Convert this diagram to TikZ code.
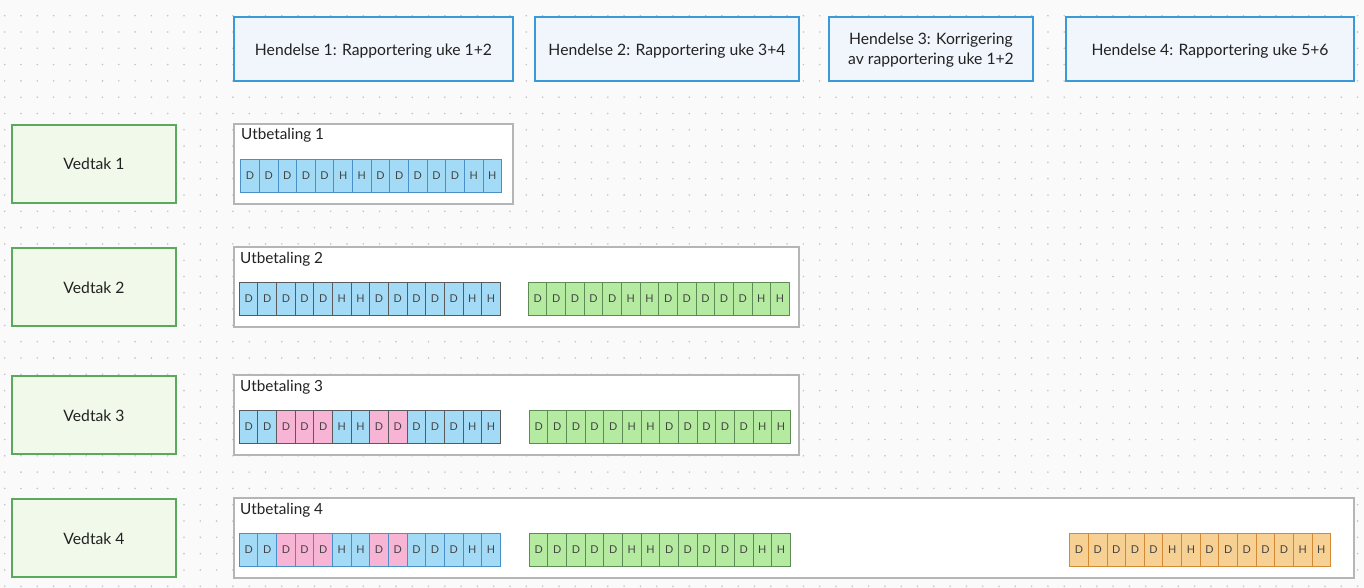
\documentclass[tikz,border=0pt]{standalone}
\usepackage{fontspec}
\setmainfont{Lato}
\definecolor{bgc}{HTML}{FAFAFA}
\definecolor{dotc}{HTML}{C4C4C4}
\definecolor{hdrb}{HTML}{3A9AD9}
\definecolor{hdrf}{HTML}{F1F6FD}
\definecolor{vedb}{HTML}{5AAA5E}
\definecolor{vedf}{HTML}{F0F9EA}
\definecolor{utbb}{HTML}{B5B5B5}
\definecolor{bluef}{HTML}{A3DBF7}
\definecolor{blueb}{HTML}{4A90C8}
\definecolor{pinkf}{HTML}{F8B4D4}
\definecolor{greenf}{HTML}{B4EBA0}
\definecolor{greenb}{HTML}{5E8A55}
\definecolor{orangef}{HTML}{F7D193}
\definecolor{orangeb}{HTML}{D48A35}
\definecolor{grayb}{HTML}{5A5A5A}
\definecolor{txt}{HTML}{222222}
\tikzset{
  hdr/.style={draw=hdrb, line width=2.5pt, fill=hdrf, minimum height=64pt, text=txt, font=\fontsize{15.7}{20}\selectfont, align=center, inner sep=0pt},
  hdrtxt/.style={text=txt, font=\fontsize{15.7}{20}\selectfont, align=center, inner sep=0pt},
  ved/.style={draw=vedb, line width=2.5pt, fill=vedf, minimum width=164pt, minimum height=78pt, inner sep=0pt},
  vedtxt/.style={text=txt, font=\fontsize{15.7}{18}\selectfont, inner sep=0pt},
  utb/.style={draw=utbb, line width=2pt, fill=white, inner sep=0pt},
  utblbl/.style={anchor=base west, text=txt, font=\fontsize{15.3}{18}\selectfont, inner sep=0pt},
  cellbox/.style={minimum width=18.64pt, minimum height=33.3pt, inner sep=0pt, line width=0.9pt, text=txt!85, font=\fontsize{10.8}{12}\selectfont},
  cblue/.style={cellbox, draw=blueb, fill=bluef},
  cbluegray/.style={cellbox, draw=grayb, fill=bluef},
  cpink/.style={cellbox, draw=blueb, fill=pinkf},
  cpinkgray/.style={cellbox, draw=grayb, fill=pinkf},
  cgreen/.style={cellbox, draw=greenb, fill=greenf},
  corange/.style={cellbox, draw=orangeb, fill=orangef},
}
% #1 name prefix, #2 x0, #3 y0 (top), #4 normal style, #5 pink style (or same)
\newcommand{\cellrow}[5]{%
  \foreach \i/\l in {1/D,2/D,3/D,4/D,5/D,6/H,7/H,8/D,9/D,10/D,11/D,12/D,13/H,14/H}{%
    \pgfmathsetmacro{\cx}{#2+(\i-0.5)*18.64}%
    \ifnum\i=3 \def\st{#5}\else\ifnum\i=4 \def\st{#5}\else\ifnum\i=5 \def\st{#5}\else\ifnum\i=8 \def\st{#5}\else\ifnum\i=9 \def\st{#5}\else\def\st{#4}\fi\fi\fi\fi\fi
    \node[\st] (#1-\i) at (\cx,#3+16.65) {\l};%
  }%
}
\begin{document}
\begin{tikzpicture}[x=1pt,y=-1pt]
\fill[bgc] (0,0) rectangle (1364,588);
\useasboundingbox (0,0) rectangle (1364,588);
\foreach \ix in {0,...,83}{\foreach \iy in {1,...,36}{\fill[dotc] (4.7+\ix*16.3,15.7+\iy*16.3-16.3) circle (0.9pt);}}
% headers
\node[hdr, minimum width=279pt] (h1) at (373.5,49) {};
\node[hdr, minimum width=264pt] (h2) at (667,49) {};
\node[hdr, minimum width=204pt] (h3) at (931,49) {};
\node[hdr, minimum width=288pt] (h4) at (1210,49) {};
\node[hdrtxt, anchor=base] (h1t) at (373.5,55.7) {Hendelse 1: Rapportering uke 1+2};
\node[hdrtxt, anchor=base] (h2t) at (667,55.7) {Hendelse 2: Rapportering uke 3+4};
\node[hdrtxt, anchor=base] (h3t) at (931,45) {Hendelse 3: Korrigering};
\node[hdrtxt, anchor=base] (h3u) at (931,65) {av rapportering uke 1+2};
\node[hdrtxt, anchor=base] (h4t) at (1210,55.7) {Hendelse 4: Rapportering uke 5+6};
% vedtak
\node[ved] (v1) at (94,164) {};
\node[ved] (v2) at (94,287) {};
\node[ved] (v3) at (94,415) {};
\node[ved] (v4) at (94,538) {};
\node[vedtxt, anchor=base] (v1t) at (94,170) {Vedtak 1};
\node[vedtxt, anchor=base] (v2t) at (94,293) {Vedtak 2};
\node[vedtxt, anchor=base] (v3t) at (94,421) {Vedtak 3};
\node[vedtxt, anchor=base] (v4t) at (94,544) {Vedtak 4};
% utbetaling boxes
\draw[utb] (234,124) rectangle (513,204);
\node[utblbl] (u1) at (241,140) {Utbetaling 1};
\draw[utb] (234,247) rectangle (799,327);
\node[utblbl] (u2) at (240,263) {Utbetaling 2};
\draw[utb] (234,375) rectangle (799,455);
\node[utblbl] (u3) at (240,391) {Utbetaling 3};
\draw[utb] (234,498) rectangle (1354,578);
\node[utblbl] (u4) at (240,514) {Utbetaling 4};
% cell rows
\cellrow{r1}{240.7}{159.3}{cblue}{cblue}
\cellrow{r2b}{239.3}{282}{cbluegray}{cbluegray}
\cellrow{r2g}{528.3}{282}{cgreen}{cgreen}
\cellrow{r3b}{239.3}{410}{cbluegray}{cpinkgray}
\cellrow{r3g}{529.3}{410}{cgreen}{cgreen}
\cellrow{r4b}{239.3}{533}{cblue}{cpink}
\cellrow{r4g}{529.3}{533}{cgreen}{cgreen}
\cellrow{r4o}{1069.7}{533}{corange}{corange}
\end{tikzpicture}
\end{document}
